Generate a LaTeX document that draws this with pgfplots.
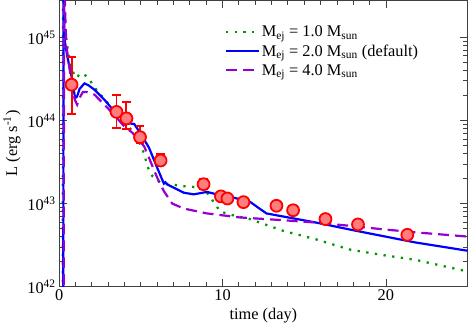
\documentclass[border=0pt]{standalone}
\usepackage{fontspec}
\setmainfont{Liberation Serif}
\usepackage{pgfplots}
\usepackage{pgfplotstable}
\pgfplotsset{compat=1.18}
\definecolor{mgreen}{RGB}{0,150,0}
\definecolor{mblue}{RGB}{0,0,255}
\definecolor{mviolet}{RGB}{148,0,211}
\definecolor{mfill}{RGB}{255,125,125}
\newcommand\fs{\fontsize{16.5}{19.5}\selectfont}

\pgfplotstableread{
x y ep em
0.76 2.7e44 3.05e44 1.5e44
3.51 1.27e44 0.77e44 0.46e44
4.12 1.06e44 0.61e44 0.28e44
4.95 6.3e43 2.4e43 1.0e43
6.21 3.3e43 0.6e43 0.4e43
8.84 1.71e43 0.28e43 0.2e43
9.90 1.22e43 0 0
10.30 1.15e43 0 0
11.28 1.04e43 0 0
13.30 9.4e42 0 0
14.32 8.3e42 0 0
16.30 6.5e42 0 0
18.29 5.6e42 0 0
21.31 4.2e42 0 0
}\obs

\pgfplotstableread{
x y
0.22 1e41
0.24 1e46
0.30 2.5e45
0.40 1.1e45
0.54 6.8e44
0.80 4.0e44
1.05 3.25e44
1.31 3.7e44
1.65 3.45e44
1.91 3.0e44
2.16 2.5e44
2.72 1.86e44
3.48 1.23e44
4.10 9.0e43
4.69 6.8e43
5.20 4.0e43
5.40 2.8e43
5.70 2.15e43
6.20 1.78e43
6.82 1.70e43
7.63 1.62e43
8.84 1.55e43
9.35 1.12e43
9.86 8.0e42
10.67 7.2e42
11.68 6.5e42
13.70 4.7e42
15.73 3.7e42
17.76 2.8e42
19.78 2.4e42
21.80 2.1e42
25.00 1.52e42
}\mone

\pgfplotstableread{
x y
0.25 1e41
0.27 1e46
0.29 2.8e45
0.33 9.5e44
0.50 5.9e44
0.74 3.55e44
0.98 1.86e44
1.10 1.95e44
1.25 2.4e44
1.55 2.8e44
1.80 2.65e44
2.16 2.35e44
2.77 1.78e44
3.37 1.29e44
4.08 1.0e44
4.30 9.2e43
4.59 9.1e43
4.89 7.4e43
5.20 5.9e43
5.50 4.7e43
6.00 2.7e43
6.41 1.74e43
6.50 1.80e43
6.61 1.70e43
7.02 1.55e43
7.63 1.35e43
8.24 1.29e43
9.05 1.38e43
9.65 1.29e43
10.50 1.20e43
11.68 1.05e43
12.19 8.9e42
12.69 7.6e42
15.73 5.9e42
18.16 4.7e42
21.80 3.4e42
25.00 2.7e42
}\mtwo

\pgfplotstableread{
x y
0.28 1e41
0.30 1e46
0.36 2.2e45
0.44 8.1e44
0.74 2.95e44
0.95 1.8e44
1.10 1.55e44
1.30 1.95e44
1.45 2.2e44
1.70 2.2e44
2.16 2.05e44
2.77 1.55e44
3.37 1.17e44
3.98 8.5e43
4.49 7.1e43
5.20 4.9e43
5.50 3.55e43
6.00 2.05e43
6.41 1.41e43
6.92 1.0e43
7.63 8.7e42
9.05 7.6e42
11.07 6.8e42
13.70 6.3e42
15.73 5.9e42
17.76 5.4e42
19.78 4.9e42
21.80 4.5e42
25.00 4.0e42
}\mfour

\begin{document}
\begin{tikzpicture}[font=\fs]
\begin{axis}[
  scale only axis, width=411bp, height=288bp,
  xmin=0, xmax=25, ymode=log, ymin=1e42, ymax=2.8e45,
  xtick={0,10,20}, minor x tick num=9,
  ytick={1e42,1e43,1e44,1e45},
  yticklabels={10\textsuperscript{42},10\textsuperscript{43},10\textsuperscript{44},10\textsuperscript{45}},
  tick align=inside, major tick length=8bp, minor tick length=4.5bp,
  /pgf/number format/assume math mode=true,
  xlabel={time (day)}, ylabel={L (erg s\textsuperscript{-1})},
  axis line style={black!75, line width=0.8bp},
  every tick/.style={black!75, line width=0.8bp},
  tick label style={font=\fs}, label style={font=\fs},
  legend style={draw=none, fill=none, font=\fs, at={(rel axis cs:0.4,0.925)}, anchor=north west, row sep=2.5bp, inner sep=2bp},
  legend cell align=left,
  legend image code/.code={\draw[#1] (0bp,0bp) -- (33bp,0bp);},
]
\addplot[mgreen, line width=2.3bp, dash pattern=on 2.3bp off 6.5bp] table {\mone};
\addlegendentry{M\textsubscript{ej} = 1.0 M\textsubscript{sun}}
\addplot[mblue, line width=2.2bp] table {\mtwo};
\addlegendentry{M\textsubscript{ej} = 2.0 M\textsubscript{sun} (default)}
\addplot[mviolet, line width=2.2bp, dash pattern=on 11bp off 6bp] table {\mfour};
\addlegendentry{M\textsubscript{ej} = 4.0 M\textsubscript{sun}}
\addplot[only marks, mark=*, mark size=6bp, mark options={draw=red, fill=mfill, line width=1.8bp},
  error bars/.cd, y dir=both, y explicit,
  error bar style={draw=red, line width=2bp},
  error mark options={draw=red, rotate=90, mark size=4.5bp, line width=2bp}]
  table[x=x, y=y, y error plus=ep, y error minus=em] {\obs};
\end{axis}
\end{tikzpicture}
\end{document}
